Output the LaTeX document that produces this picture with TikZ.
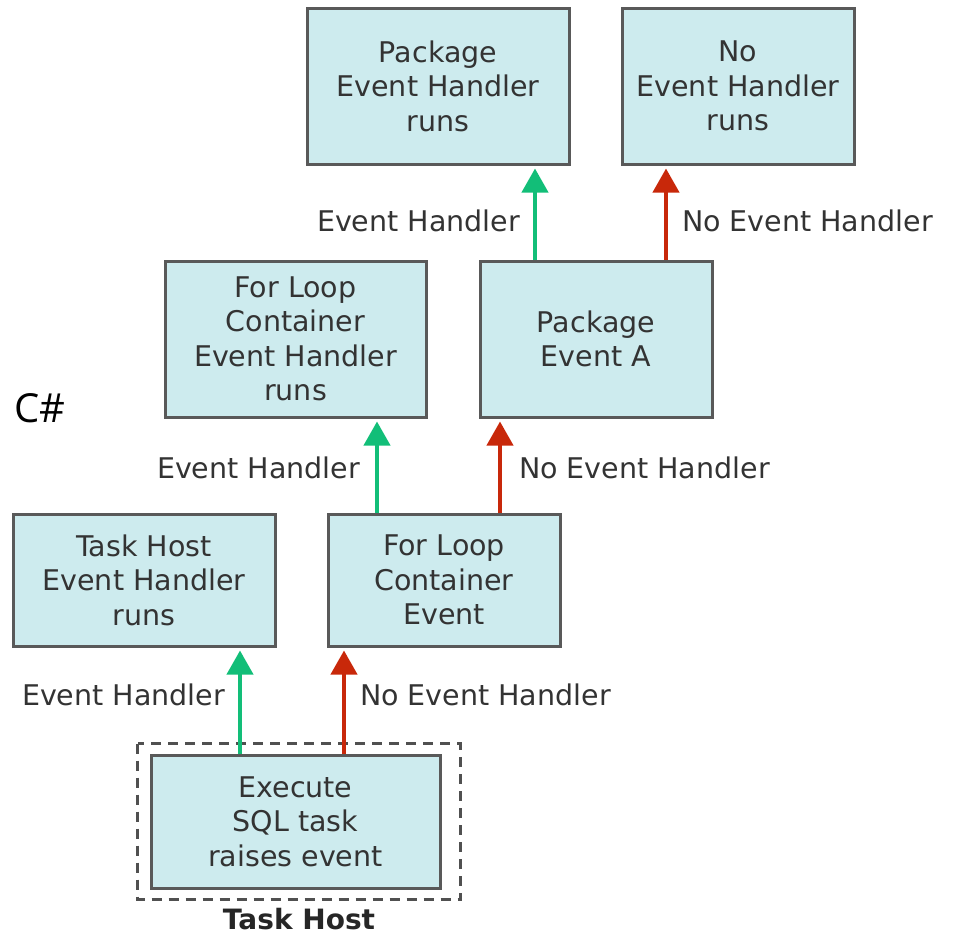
\documentclass[tikz,border=0pt]{standalone}
\usepackage{fontspec}
\setmainfont{DejaVu Sans}
\newfontfamily\csfont{Open Sans}
\usetikzlibrary{arrows.meta}
\definecolor{boxfill}{HTML}{CDEBEE}
\definecolor{boxline}{HTML}{595959}
\definecolor{txt}{HTML}{333333}
\definecolor{okgreen}{HTML}{12BE78}
\definecolor{nored}{HTML}{C8280A}
\tikzset{
  stage/.style={draw=boxline, line width=3pt, fill=boxfill, align=center,
    text=txt, inner sep=0pt, font=\fontsize{28.5}{34.5}\selectfont},
  lbl/.style={text=txt, inner sep=0pt, font=\fontsize{28.5}{34.5}\selectfont},
  flow/.style={line width=4pt, -{Triangle[width=26pt,length=24pt]}, shorten >=3pt},
  handled/.style={flow, draw=okgreen, fill=okgreen},
  unhandled/.style={flow, draw=nored, fill=nored}
}
\begin{document}
\begin{tikzpicture}[x=1pt, y=-1pt]
\useasboundingbox (0,0) rectangle (953,938);

% event handler boxes and event boxes
\node[stage, minimum width=262pt, minimum height=156pt] (pkgEH) at (438,86)
  {Package\\Event Handler\\runs};
\node[stage, minimum width=232pt, minimum height=156pt] (noEH) at (738,86)
  {No\\Event Handler\\runs};
\node[stage, minimum width=261pt, minimum height=156pt] (loopEH) at (295.5,339)
  {For Loop\\Container\\Event Handler\\runs};
\node[stage, minimum width=232pt, minimum height=156pt] (pkgEv) at (596,339)
  {Package\\Event A};
\node[stage, minimum width=262pt, minimum height=132pt] (hostEH) at (144,580)
  {Task Host\\Event Handler\\runs};
\node[stage, minimum width=232pt, minimum height=132pt] (loopEv) at (444,580)
  {For Loop\\Container\\Event};
\node[stage, minimum width=289pt, minimum height=133pt] (sql) at (295.5,821.5)
  {Execute\\SQL task\\raises event};

% task host boundary
\draw[boxline!90!black, line width=3pt, dash pattern=on 10pt off 7pt]
  ([xshift=-12pt, yshift=10pt]sql.north west) rectangle ([xshift=19pt, yshift=-10pt]sql.south east);
\node[lbl, font=\bfseries\fontsize{28}{34.5}\selectfont, text=black!85] (hostlbl) at (299,919) {Task Host};

\node[inner sep=0pt, font=\csfont\fontsize{40}{48}\selectfont] (cs) at (40,408) {C\#};

% propagation arrows
\draw[handled] ([xshift=-61pt]pkgEv.north) -- ([xshift=97pt]pkgEH.south)
  node[lbl, pos=0.41, anchor=east, xshift=-13pt] (l1) {Event Handler};
\draw[unhandled] ([xshift=70pt]pkgEv.north) -- ([xshift=-72pt]noEH.south)
  node[lbl, pos=0.41, anchor=west, xshift=14pt] (l2) {No Event Handler};
\draw[handled] ([xshift=-67pt]loopEv.north) -- ([xshift=81.5pt]loopEH.south)
  node[lbl, pos=0.48, anchor=east, xshift=-15pt] (l3) {Event Handler};
\draw[unhandled] ([xshift=56pt]loopEv.north) -- ([xshift=-96pt]pkgEv.south)
  node[lbl, pos=0.48, anchor=west, xshift=17pt] (l4) {No Event Handler};
\draw[handled] ([xshift=-55.5pt]sql.north) -- ([xshift=96pt]hostEH.south)
  node[lbl, pos=0.55, anchor=east, xshift=-13pt] (l5) {Event Handler};
\draw[unhandled] ([xshift=48.5pt]sql.north) -- ([xshift=-100pt]loopEv.south)
  node[lbl, pos=0.55, anchor=west, xshift=14pt] (l6) {No Event Handler};
\end{tikzpicture}
\end{document}
